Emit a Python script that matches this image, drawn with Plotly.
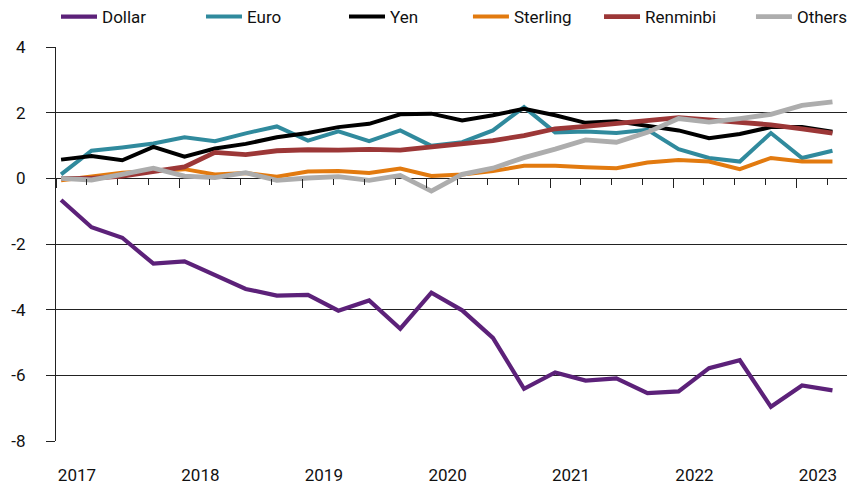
import plotly.graph_objects as go

# ----------------------------
# Data (quarterly)
# ----------------------------
dates = [
    "2017-01-16", "2017-04-16", "2017-07-16", "2017-10-16",
    "2018-01-16", "2018-04-16", "2018-07-16", "2018-10-16",
    "2019-01-16", "2019-04-16", "2019-07-16", "2019-10-16",
    "2020-01-16", "2020-04-16", "2020-07-16", "2020-10-16",
    "2021-01-16", "2021-04-16", "2021-07-16", "2021-10-16",
    "2022-01-16", "2022-04-16", "2022-07-16", "2022-10-16",
    "2023-01-16", "2023-04-16",
]

dollar = [-0.66, -1.49, -1.81, -2.60, -2.53, -2.94, -3.37, -3.57, -3.55, -4.03,
          -3.72, -4.58, -3.48, -4.02, -4.86, -6.41, -5.91, -6.16, -6.09, -6.54,
          -6.49, -5.78, -5.54, -6.96, -6.31, -6.46]
euro = [0.12, 0.84, 0.94, 1.06, 1.25, 1.13, 1.37, 1.58, 1.15, 1.43,
        1.13, 1.46, 0.99, 1.10, 1.46, 2.17, 1.40, 1.43, 1.38, 1.48,
        0.89, 0.62, 0.51, 1.38, 0.62, 0.84]
yen = [0.57, 0.68, 0.55, 0.96, 0.66, 0.91, 1.05, 1.25, 1.38, 1.56,
       1.66, 1.95, 1.97, 1.76, 1.92, 2.12, 1.92, 1.69, 1.74, 1.61,
       1.46, 1.22, 1.35, 1.56, 1.56, 1.42]
sterling = [-0.06, 0.04, 0.17, 0.22, 0.28, 0.12, 0.16, 0.05, 0.21, 0.22,
            0.16, 0.30, 0.07, 0.12, 0.22, 0.38, 0.38, 0.34, 0.31, 0.48,
            0.56, 0.51, 0.28, 0.62, 0.51, 0.51]
renminbi = [0.00, 0.00, 0.07, 0.20, 0.35, 0.79, 0.72, 0.84, 0.87, 0.86,
            0.88, 0.86, 0.96, 1.05, 1.15, 1.30, 1.51, 1.58, 1.66, 1.76,
            1.85, 1.78, 1.71, 1.63, 1.51, 1.38]
others = [0.00, -0.05, 0.12, 0.31, 0.07, 0.02, 0.17, -0.06, 0.01, 0.05,
          -0.06, 0.09, -0.39, 0.12, 0.31, 0.63, 0.89, 1.17, 1.10, 1.40,
          1.82, 1.71, 1.82, 1.95, 2.22, 2.33]

years = ["2017", "2018", "2019", "2020", "2021", "2022", "2023"]
year_label_pos = [y + "-03-04" for y in years]

y_ticks = [-8, -6, -4, -2, 0, 2, 4]
y_labels = ["-8", "-6", "-4", "-2", "0", "2", "4"]

# name, values, colour, line width, legend x (paper)
series = [
    ("Dollar", dollar, "#5c2179", 4.2, 0.0),
    ("Euro", euro, "#308a9d", 4.0, 0.1833),
    ("Yen", yen, "#000000", 4.0, 0.3641),
    ("Sterling", sterling, "#e27a0f", 4.0, 0.5208),
    ("Renminbi", renminbi, "#9c3737", 4.8, 0.6865),
    ("Others", others, "#adadad", 4.8, 0.8786),
]

FONT = "Roboto"
AXIS_COL = "#222222"
TXT_COL = "#111111"
Y_MIN, Y_MAX = -8, 4
zero_frac = (0 - Y_MIN) / (Y_MAX - Y_MIN)

fig = go.Figure()
legends = {}
for i, (name, vals, col, w, lx) in enumerate(series):
    key = "legend" if i == 0 else f"legend{i + 1}"
    fig.add_trace(go.Scatter(
        x=dates, y=vals, name=name, mode="lines",
        line=dict(color=col, width=w), legend=key,
    ))
    legends[key] = dict(
        orientation="h", x=lx, xanchor="left", y=1.076, yanchor="middle",
        font=dict(family=FONT, size=17, color=TXT_COL),
        bgcolor="rgba(0,0,0,0)", itemwidth=36,
    )

# invisible helper trace: its x axis sits on the zero line and carries the quarter ticks
fig.add_trace(go.Scatter(x=dates, y=others, xaxis="x2", yaxis="y2", showlegend=False,
                         mode="lines", line=dict(width=0), hoverinfo="skip"))

x_range = ["2017-01-01", "2023-05-29"]

# page body has an 8px margin, so the figure is 8px smaller and margins shifted
fig.update_layout(
    width=847, height=478,
    margin=dict(l=48, r=8, t=39, b=45, autoexpand=False),
    paper_bgcolor="white", plot_bgcolor="rgba(0,0,0,0)",
    font=dict(family=FONT, size=17, color=TXT_COL),
    showlegend=True,
    **legends,
    xaxis=dict(
        type="date", range=x_range,
        tickvals=year_label_pos, ticktext=years,
        ticks="", showgrid=False, zeroline=False, showline=False,
        ticklabelstandoff=22, automargin=False,
        tickfont=dict(family=FONT, size=17, color=TXT_COL),
    ),
    xaxis2=dict(
        type="date", range=x_range, anchor="y2",
        tick0="2017-01-01", dtick="M12",
        ticks="outside", ticklen=9, tickwidth=1, tickcolor=AXIS_COL,
        minor=dict(dtick="M3", ticks="outside", ticklen=6, tickwidth=1,
                   tickcolor=AXIS_COL, showgrid=False),
        showticklabels=False, showgrid=False, zeroline=False,
        showline=False, automargin=False,
    ),
    yaxis2=dict(
        domain=[zero_frac, 1], anchor="x2", range=[0, Y_MAX],
        visible=False, showgrid=False, zeroline=False,
    ),
    yaxis=dict(
        range=[Y_MIN, Y_MAX], tickvals=y_ticks, ticktext=y_labels,
        ticks="outside", ticklen=9, tickwidth=1, tickcolor=AXIS_COL,
        showgrid=True, gridcolor=AXIS_COL, gridwidth=1,
        zeroline=False, automargin=False,
        showline=True, linecolor=AXIS_COL, linewidth=1, mirror=True,
        ticklabelstandoff=17,
        tickfont=dict(family=FONT, size=17, color=TXT_COL),
    ),
)

fig.write_html("out.html")
